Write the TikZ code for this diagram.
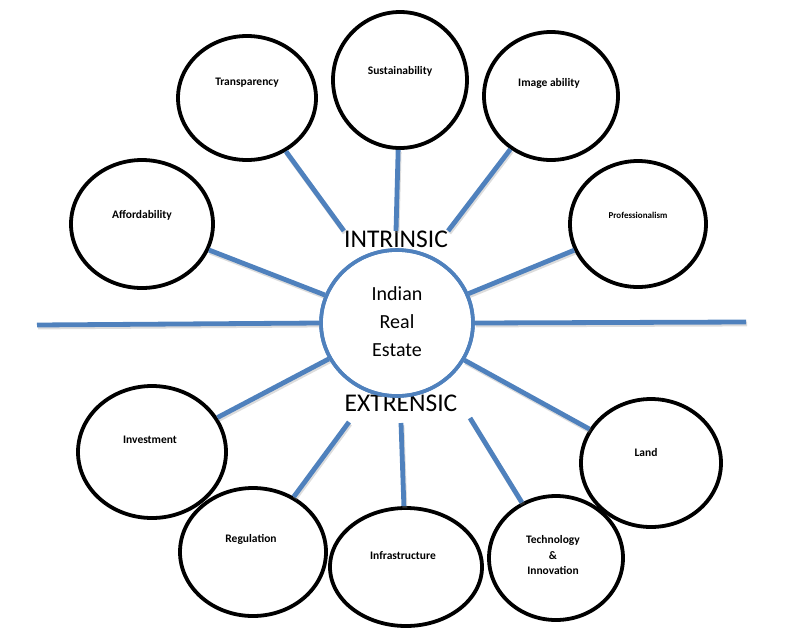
\documentclass[tikz,border=0pt]{standalone}
\usepackage{fontspec}
\setmainfont{Carlito}
\usepackage{xcolor}
\usetikzlibrary{shapes.geometric,positioning,calc}
\definecolor{officeBlue}{HTML}{4F81BD}

\tikzset{
  bubble/.style={draw=black,line width=3.8pt,ellipse,inner sep=0pt},
  core/.style={draw=officeBlue,line width=3.6pt,ellipse,inner sep=0pt,fill=white},
  spoke/.style={draw=officeBlue,line width=4.8pt,
    preaction={draw=black!45,opacity=.3,line width=4.8pt,transform canvas={shift={(1pt,-2pt)}}}},
  lbl/.style={font=\bfseries\fontsize{11.5}{13}\selectfont,inner sep=0pt},
  side/.style={font=\fontsize{25.5}{28}\selectfont,inner sep=0pt}
}

\begin{document}
\begin{tikzpicture}[x=1pt,y=-1pt]
\useasboundingbox (0,0) rectangle (795,641);
% sides and centre
\node[side,anchor=south] (intr) at (396,248) {INTRINSIC};
\node[side,anchor=south] (extr) at (401,412) {EXTRENSIC};
\coordinate (leftend) at (37,325);
\coordinate (rightend) at (746,322);
\coordinate (regEnd) at (349,422);
\coordinate (infEnd) at (401,423);
\coordinate (techEnd) at (470,418);
% intrinsic bubbles
\node[bubble,minimum width=138pt,minimum height=124pt] (trans) at (247,98) {};
\node[bubble,minimum width=134pt,minimum height=136pt] (sust) at (400,80) {};
\node[bubble,minimum width=134pt,minimum height=128pt] (image) at (551,96) {};
\node[bubble,minimum width=142pt,minimum height=128pt] (afford) at (142,224) {};
\node[bubble,minimum width=136pt,minimum height=126pt] (prof) at (638,224) {};
% extrinsic bubbles
\node[bubble,minimum width=148pt,minimum height=132pt] (invest) at (152,452) {};
\node[bubble,minimum width=146pt,minimum height=128pt] (reg) at (253,552) {};
\node[bubble,minimum width=152pt,minimum height=118pt] (infra) at (406,567) {};
\node[bubble,minimum width=134pt,minimum height=124pt] (tech) at (556,558) {};
\node[bubble,minimum width=140pt,minimum height=128pt] (land) at (651,463) {};
\node[core,minimum width=152pt,minimum height=146pt] (core) at (397,323) {};
% spokes
\draw[spoke] (trans) -- (intr.north west);
\draw[spoke] (sust) -- (intr.north);
\draw[spoke] (image) -- (intr.north east);
\draw[spoke] (afford) -- (core);
\draw[spoke] (prof) -- (core);
\draw[spoke] (invest) -- (core);
\draw[spoke] (land) -- (core);
\draw[spoke] (core.west) -- (leftend);
\draw[spoke] (core.east) -- (rightend);
\draw[spoke] (reg) -- (regEnd);
\draw[spoke] (infra) -- (infEnd);
\draw[spoke] (tech) -- (techEnd);
\draw[officeBlue,line width=3.6pt] (core.center) ellipse [x radius=76pt,y radius=73pt];
% labels
\node[align=center,font=\fontsize{20}{28}\selectfont] (coreT) at (397,322) {Indian\\Real\\Estate};
\node[lbl] (transT) at (247,83) {Transparency};
\node[lbl] (sustT) at (400,71) {Sustainability};
\node[lbl] (imageT) at (549,83) {Image ability};
\node[lbl] (affordT) at (142,215) {Affordability};
\node[lbl,font=\bfseries\fontsize{9}{10}\selectfont] (profT) at (638,215) {Professionalism};
\node[lbl] (investT) at (150,440) {Investment};
\node[lbl] (regT) at (251,539) {Regulation};
\node[lbl] (infraT) at (403,556) {Infrastructure};
\node[lbl,align=center,font=\bfseries\fontsize{11.5}{15.5}\selectfont] (techT) at (553,555) {Technology\\\&\\Innovation};
\node[lbl] (landT) at (646,452) {Land};
\end{tikzpicture}
\end{document}
